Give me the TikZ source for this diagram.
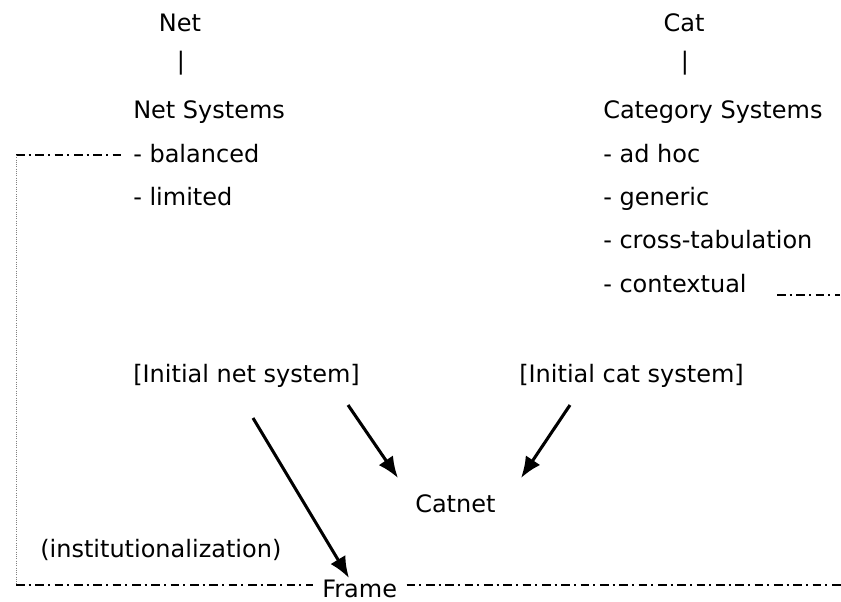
\documentclass[tikz,border=0pt]{standalone}
\usepackage{fontspec}
\setmainfont{DejaVu Sans}
\usetikzlibrary{arrows.meta}

\begin{document}
\begin{tikzpicture}
  [x=0.75pt,y=-0.75pt,
  every node/.style={font=\fontsize{18}{21}\selectfont,inner sep=0pt},
  item/.style={anchor=base west},
  head/.style={anchor=base},
  arr/.style={-{Latex[length=16pt,width=13pt]},line width=2.3pt},
  dashdot/.style={line width=1.6pt,dash pattern=on 6.5pt off 3pt on 1.5pt off 3.5pt},
  margin/.style={densely dotted,gray,line width=0.7pt}]
  \useasboundingbox (0,0) rectangle (841,601);
  % net side
  \node[head] (net) at (180,31) {Net};
  \node[head] (netbar) at (181,69) {|};
  \node[item] (netsys) at (133,118) {Net Systems};
  \node[item] (balanced) at (133,162) {- balanced};
  \node[item] (limited) at (133,205) {- limited};
  % cat side
  \node[head] (cat) at (684,31) {Cat};
  \node[head] (catbar) at (685,69) {|};
  \node[item] (catsys) at (603,118) {Category Systems};
  \node[item] (adhoc) at (603,162) {- ad hoc};
  \node[item] (generic) at (603,205) {- generic};
  \node[item] (cross) at (603,248) {- cross-tabulation};
  \node[item] (context) at (603,292) {- contextual};
  % lower part
  \node[item] (ininet) at (133,382) {[Initial net system]};
  \node[item] (inicat) at (519,382) {[Initial cat system]};
  \node[item] (catnet) at (415,512) {Catnet};
  \node[item] (inst) at (40,557) {(institutionalization)};
  \node[item] (frame) at (322,597) {Frame};

  \coordinate (a1) at (253,418);
  \coordinate (a2) at (348,405);
  \coordinate (a3) at (570,405);
  \coordinate (b1) at (349,578);
  \coordinate (b2) at (398,478);
  \coordinate (b3) at (521,478);
  \draw[arr] (a1) -- (b1);
  \draw[arr] (a2) -- (b2);
  \draw[arr] (a3) -- (b3);

  \coordinate (lt) at (16,155);
  \coordinate (lb) at (16,585);
  \coordinate (rt) at (777,295);
  \draw[dashdot] (lt) -- ([xshift=-6pt]balanced.west |- lt);
  \draw[margin] (lt) -- (lb);
  \draw[dashdot] (lb) -- ([xshift=-7pt]frame.west |- lb);
  \draw[dashdot] ([xshift=7pt]frame.east |- lb) -- (841,585);
  \draw[dashdot] (rt) -- (840,295);
\end{tikzpicture}
\end{document}
